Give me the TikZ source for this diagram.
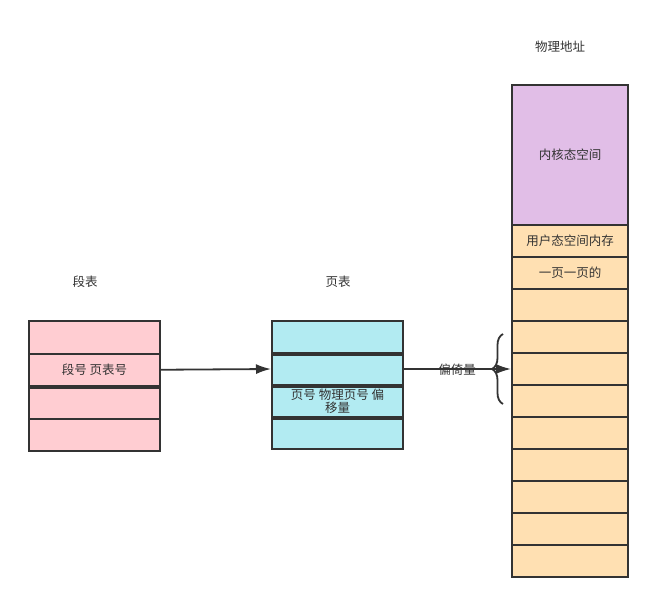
\documentclass[tikz,border=0pt]{standalone}
\usepackage{fontspec}
\setmainfont{Noto Sans CJK SC}
\usetikzlibrary{positioning,arrows.meta,decorations.pathreplacing}
\definecolor{linec}{HTML}{333333}
\definecolor{segpink}{HTML}{FFCDD2}
\definecolor{pagecyan}{HTML}{B2EBF2}
\definecolor{kernpurple}{HTML}{E1BEE7}
\definecolor{userorange}{HTML}{FFE0B2}
\tikzset{
  flowarrow/.style={-{Latex[length=15pt,width=10pt]}, line width=1.8pt, draw=linec},
  segcell/.style={draw=linec, line width=2pt, fill=segpink, minimum width=131pt, minimum height=32.5pt, align=center},
  pagecell/.style={draw=linec, line width=2pt, fill=pagecyan, minimum width=131pt, minimum height=32pt, align=center},
  kerncell/.style={draw=linec, line width=2pt, fill=kernpurple, minimum width=116pt, minimum height=140pt, align=center},
  memcell/.style={draw=linec, line width=2pt, fill=userorange, minimum width=116pt, minimum height=32pt, align=center},
  sepline/.style={draw=linec, line width=3.5pt},
  titlelabel/.style={font=\fontsize{12.5}{14}\selectfont, text=linec}
}
\begin{document}
\begin{tikzpicture}[x=1pt, y=-1pt, every node/.style={font=\fontsize{12.5}{14}\selectfont, text=linec, inner sep=0pt}]
  \useasboundingbox (0,0) rectangle (653,602);
  % titles
  \node[titlelabel] (segtitle) at (85,282) {段表};
  \node[titlelabel] (pagetitle) at (338,282) {页表};
  \node[titlelabel] (memtitle) at (560,47) {物理地址};
  % segment table
  \node[segcell] (s1) at (94.5,337.25) {};
  \node[segcell] (s2) at (94.5,369.75) {段号 页表号};
  \node[segcell] (s3) at (94.5,402.25) {};
  \node[segcell] (s4) at (94.5,434.75) {};
  \draw[sepline] (s2.south west) -- (s2.south east);
  % page table
  \node[pagecell] (p1) at (337.5,337) {};
  \node[pagecell] (p2) at (337.5,369) {};
  \node[pagecell] (p3) at (337.5,401) {页号 物理页号 偏\\[-1pt]移量};
  \node[pagecell] (p4) at (337.5,433) {};
  \draw[sepline] (p1.south west) -- (p1.south east);
  \draw[sepline] (p2.south west) -- (p2.south east);
  \draw[sepline] (p3.south west) -- (p3.south east);
  % physical memory
  \node[kerncell] (kern) at (570,155) {内核态空间};
  \foreach \i in {1,...,11}
    \node[memcell] (r\i) at (570,{225+32*(\i-0.5)}) {};
  \node at (r1) {用户态空间内存};
  \node at (r2) {一页一页的};
  % arrows
  \draw[flowarrow] (s2.east) -- (p2.west);
  \draw[flowarrow] (p2.east) -- (r5.west);
  \node (offset) at (457,370) {偏倚量};
  \coordinate (bracebot) at (503,404);
  \coordinate (bracetop) at (503,334);
  \draw[linec, line width=1.8pt, decorate, decoration={brace, amplitude=11pt}] (bracebot) -- (bracetop);
\end{tikzpicture}
\end{document}
